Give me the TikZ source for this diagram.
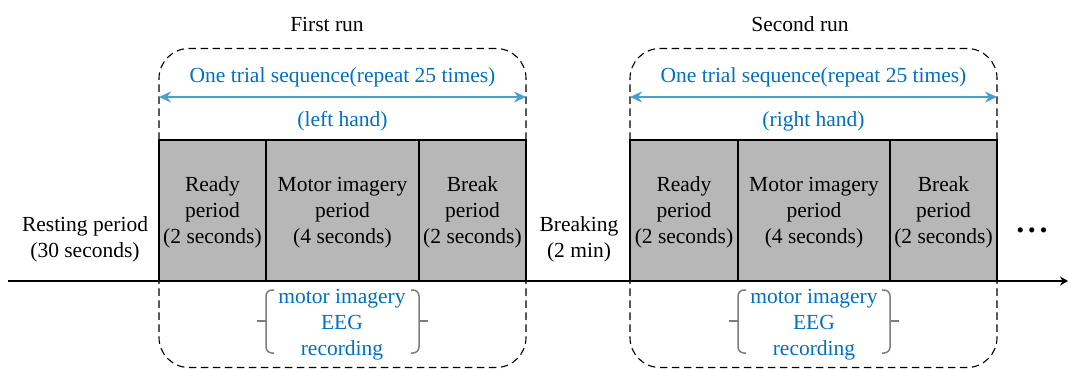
\documentclass[tikz,border=0pt]{standalone}
\usepackage{fontspec}
\setmainfont{Liberation Serif}
\usetikzlibrary{arrows.meta}
\definecolor{txtblue}{RGB}{0,112,192}
\definecolor{arrblue}{RGB}{72,160,210}
\definecolor{boxgray}{RGB}{183,183,183}
\definecolor{bracegray}{RGB}{125,125,125}
\begin{document}
\begin{tikzpicture}[x=1pt,y=-1pt,
  every node/.style={font=\fontsize{21.5}{26}\selectfont, inner sep=0pt, align=center},
  period/.style={draw=black, fill=boxgray, line width=1.3pt, minimum height=141pt, text depth=-5pt},
  runframe/.style={draw=black, dash pattern=on 7.5pt off 4.5pt, rounded corners=30pt, line width=1.1pt, minimum height=319pt},
  bluetxt/.style={text=txtblue},
  trialarrow/.style={{Stealth[length=12pt,width=11pt]}-{Stealth[length=12pt,width=11pt]}, draw=arrblue, line width=1.4pt},
  bracket/.style={draw=bracegray, line width=1.5pt, rounded corners=6pt},
  axisline/.style={-{Stealth[length=8pt,width=9pt]}, line width=1.3pt}
]
\useasboundingbox (0,0) rectangle (1068,370);

% run frames
\node[runframe, minimum width=367pt] (run1) at (342.5,208) {};
\node[runframe, minimum width=367pt] (run2) at (813.5,208) {};

% titles
\node (t1) at (327,24.5) {First run};
\node (t2) at (800,24.5) {Second run};

% trial arrows
\coordinate (a1l) at (159,97); \coordinate (a1r) at (526,97);
\coordinate (a2l) at (630,97); \coordinate (a2r) at (997,97);
\draw[trialarrow] (a1l) -- (a1r);
\draw[trialarrow] (a2l) -- (a2r);
\node[bluetxt] (seq1) at (342.5,77.5) {One trial sequence(repeat 25 times)};
\node[bluetxt] (hand1) at (342.5,121.5) {(left hand)};
\node[bluetxt] (seq2) at (813.5,77.5) {One trial sequence(repeat 25 times)};
\node[bluetxt] (hand2) at (813.5,121.5) {(right hand)};

% period boxes
\node[period, minimum width=107pt] (r1) at (212.5,210.5) {Ready\\period\\(2 seconds)};
\node[period, minimum width=153pt] (m1) at (342.5,210.5) {Motor imagery\\period\\(4 seconds)};
\node[period, minimum width=107pt] (b1) at (472.5,210.5) {Break\\period\\(2 seconds)};
\node[period, minimum width=108pt] (r2) at (684,210.5) {Ready\\period\\(2 seconds)};
\node[period, minimum width=152pt] (m2) at (814,210.5) {Motor imagery\\period\\(4 seconds)};
\node[period, minimum width=107pt] (b2) at (943.5,210.5) {Break\\period\\(2 seconds)};

% side labels
\node (rest) at (85,239.5) {Resting period\\(30 seconds)};
\node (brk) at (579,239.5) {Breaking\\(2 min)};
\node (dots) at (1032,233) {\textbullet\hspace{4pt}\textbullet\hspace{4pt}\textbullet};

% time axis
\coordinate (axs) at (8,281);
\coordinate (axe) at (1068,281);
\draw[axisline] (axs) -- (axe);

% EEG recording labels with brackets
\node[bluetxt] (eeg1) at (342,324.5) {motor imagery\\EEG\\recording};
\node[bluetxt] (eeg2) at (814,324.5) {motor imagery\\EEG\\recording};
\draw[bracket] (274,290) -- (266,290) -- (266,353) -- (274,353);
\draw[bracegray, line width=1.5pt] (257,321) -- (266,321);
\draw[bracket] (411,290) -- (419,290) -- (419,353) -- (411,353);
\draw[bracegray, line width=1.5pt] (419,321) -- (428,321);
\draw[bracket] (746,290) -- (738,290) -- (738,353) -- (746,353);
\draw[bracegray, line width=1.5pt] (729,321) -- (738,321);
\draw[bracket] (882,290) -- (890,290) -- (890,353) -- (882,353);
\draw[bracegray, line width=1.5pt] (890,321) -- (899,321);
\end{tikzpicture}
\end{document}
